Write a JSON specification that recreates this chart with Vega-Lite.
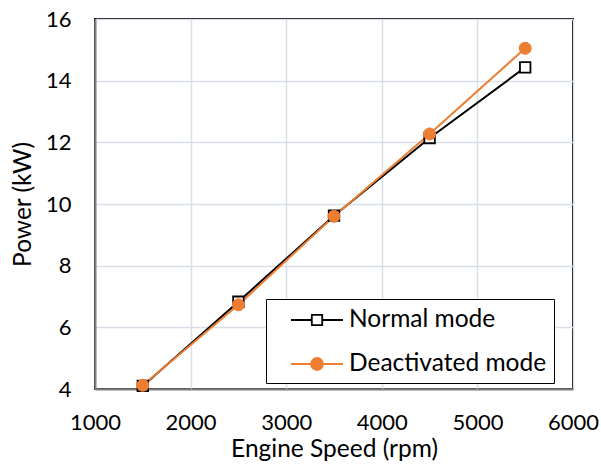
{
  "$schema": "https://vega.github.io/schema/vega-lite/v6.json",
  "width": 478,
  "height": 370,
  "autosize": {"type": "none"},
  "padding": {"left": 95, "top": 19, "right": 28, "bottom": 76},
  "background": "white",
  "config": {
    "font": "Lato",
    "view": {"stroke": "black", "strokeWidth": 2},
    "axis": {
      "labelFont": "Lato",
      "titleFont": "Lato",
      "labelFontSize": 22,
      "titleFontSize": 24.5,
      "titleFontWeight": "normal",
      "labelColor": "black",
      "titleColor": "black",
      "ticks": false,
      "gridColor": "#D9DFE8",
      "gridWidth": 1.5,
      "domainColor": "#808080",
      "domainWidth": 2
    }
  },
  "data": {
    "values": [
      {"rpm": 1500, "power": 4.1, "series": "Normal mode"},
      {"rpm": 2500, "power": 6.83, "series": "Normal mode"},
      {"rpm": 3500, "power": 9.62, "series": "Normal mode"},
      {"rpm": 4500, "power": 12.14, "series": "Normal mode"},
      {"rpm": 5500, "power": 14.43, "series": "Normal mode"},
      {"rpm": 1500, "power": 4.12, "series": "Deactivated mode"},
      {"rpm": 2500, "power": 6.73, "series": "Deactivated mode"},
      {"rpm": 3500, "power": 9.6, "series": "Deactivated mode"},
      {"rpm": 4500, "power": 12.27, "series": "Deactivated mode"},
      {"rpm": 5500, "power": 15.05, "series": "Deactivated mode"}
    ]
  },
  "encoding": {
    "x": {
      "field": "rpm", "type": "quantitative",
      "scale": {"domain": [1000, 6000], "nice": false, "zero": false},
      "axis": {"values": [1000, 2000, 3000, 4000, 5000, 6000], "format": "d", "title": "Engine Speed (rpm)", "labelPadding": 23, "titlePadding": 4, "labelFlush": false}
    },
    "y": {
      "field": "power", "type": "quantitative",
      "scale": {"domain": [4, 16], "nice": false, "zero": false},
      "axis": {"values": [4, 6, 8, 10, 12, 14, 16], "title": "Power (kW)", "labelPadding": 24, "titlePadding": 10, "labelFlush": false}
    },
    "stroke": {
      "field": "series", "type": "nominal",
      "scale": {"domain": ["Normal mode", "Deactivated mode"], "range": ["#000000", "#ED7D31"]},
      "legend": {
        "title": null,
        "orient": "none",
        "legendX": 171,
        "legendY": 280,
        "strokeColor": "black",
        "fillColor": "white",
        "padding": 7,
        "rowPadding": 18,
        "symbolSize": 676,
        "symbolOffset": 30,
        "symbolStrokeWidth": 1.8,
        "labelOffset": 18,
        "labelFont": "Lato",
        "labelFontSize": 24.5,
        "labelColor": "black",
        "labelLimit": 400,
        "encode": {
          "symbols": {
            "update": {
              "shape": [
                {"test": "datum.value === 'Normal mode'", "value": "M-2,0H-0.4M0.4,0H2M-0.4,-0.4H0.4V0.4H-0.4Z"},
                {"value": "M-2,0H2M0.46,0A0.46,0.46 0 1,1 -0.46,0A0.46,0.46 0 1,1 0.46,0Z"}
              ],
              "fill": [
                {"test": "datum.value === 'Normal mode'", "value": "#FFFFFF"},
                {"value": "#ED7D31"}
              ],
              "size": {"value": 676},
              "opacity": {"value": 1},
              "strokeWidth": {"value": 1.8}
            }
          }
        }
      }
    }
  },
  "layer": [
    {
      "mark": {"type": "line", "strokeWidth": 2},
      "encoding": {
        "detail": {"field": "series"}
      }
    },
    {
      "transform": [{"filter": "datum.series === 'Normal mode'"}],
      "mark": {"type": "point", "shape": "square", "size": 110, "filled": true, "fill": "#FFFFFF", "strokeWidth": 1.8, "opacity": 1}
    },
    {
      "transform": [{"filter": "datum.series === 'Deactivated mode'"}],
      "mark": {"type": "point", "shape": "circle", "size": 144, "filled": true, "fill": "#ED7D31", "strokeWidth": 1, "opacity": 1}
    }
  ]
}
